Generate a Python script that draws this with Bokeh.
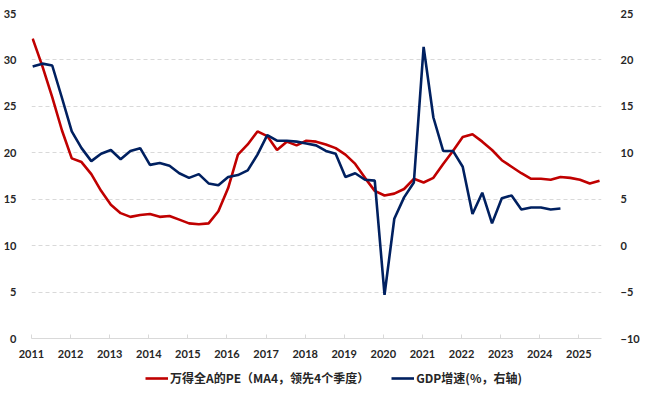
from bokeh.plotting import figure
from bokeh.layouts import column
from bokeh.models import Range1d, LinearAxis, FixedTicker, Legend, LegendItem
from bokeh.embed import file_html
from bokeh.resources import INLINE

# Quarterly series, 2011Q1 ...
pe_ma4 = [32.3, 29.3, 26.0, 22.4, 19.4, 19.0, 17.7, 15.9, 14.4, 13.5, 13.1, 13.3, 13.4, 13.1, 13.2,
          12.8, 12.4, 12.3, 12.4, 13.7, 16.2, 19.8, 20.9, 22.3, 21.8, 20.3, 21.2, 20.8, 21.3, 21.2,
          20.9, 20.5, 19.8, 18.8, 17.3, 15.9, 15.4, 15.6, 16.1, 17.2, 16.8, 17.3, 18.8, 20.2, 21.7,
          22.0, 21.2, 20.3, 19.2, 18.5, 17.8, 17.2, 17.2, 17.1, 17.4, 17.3, 17.1, 16.7, 17.0]
gdp_growth = [19.3, 19.6, 19.4, 15.9, 12.3, 10.5, 9.1, 9.9, 10.3, 9.3, 10.2, 10.5, 8.7, 8.9, 8.6,
              7.8, 7.3, 7.7, 6.7, 6.5, 7.4, 7.6, 8.1, 9.8, 11.9, 11.3, 11.3, 11.2, 11.0, 10.8,
              10.2, 9.9, 7.4, 7.8, 7.1, 7.0, -5.3, 2.9, 5.2, 6.8, 21.4, 13.8, 10.2, 10.2, 8.5,
              3.4, 5.7, 2.4, 5.1, 5.4, 3.9, 4.1, 4.1, 3.9, 4.0]
start_year = 2011
year_ticks = list(range(2011, 2026))
left_ticks = [0, 5, 10, 15, 20, 25, 30, 35]
right_ticks = [-10, -5, 0, 5, 10, 15, 20, 25]
pe_label = "万得全A的PE（MA4，领先4个季度）"
gdp_label = "GDP增速(%，右轴)"

RED = "#C00000"
NAVY = "#002060"

x_pe = [start_year + 0.03 + 0.25 * i for i in range(len(pe_ma4))]
x_gdp = [start_year + 0.03 + 0.25 * i for i in range(len(gdp_growth))]

p = figure(width=642, height=363, output_backend="svg", toolbar_location=None,
           x_range=Range1d(2011, 2025.58), y_range=Range1d(0, 35),
           min_border_left=23, min_border_right=35, min_border_top=13, min_border_bottom=25)
p.outline_line_color = None
p.background_fill_color = "white"
p.extra_y_ranges = {"right": Range1d(-10, 25)}

tick_font = "Lato"
xa = p.xaxis[0]
xa.ticker = FixedTicker(ticks=year_ticks)
xa.axis_line_color = "#d9d9d9"
xa.major_tick_line_color = "#d9d9d9"
xa.major_tick_in = 4
xa.major_tick_out = 0
xa.minor_tick_line_color = None
xa.major_label_text_font = tick_font
xa.major_label_text_font_style = "bold"
xa.major_label_text_font_size = "11px"
xa.major_label_text_color = "#262626"
xa.major_label_standoff = 11

ya = p.yaxis[0]
ya.ticker = FixedTicker(ticks=left_ticks)
ya.axis_line_color = None
ya.major_tick_line_color = None
ya.minor_tick_line_color = None
ya.major_label_text_font = tick_font
ya.major_label_text_font_style = "bold"
ya.major_label_text_font_size = "11px"
ya.major_label_text_color = "#262626"
ya.major_label_standoff = 9

ra = LinearAxis(y_range_name="right", ticker=FixedTicker(ticks=right_ticks))
ra.axis_line_color = None
ra.major_tick_line_color = None
ra.minor_tick_line_color = None
ra.major_label_text_font = tick_font
ra.major_label_text_font_style = "bold"
ra.major_label_text_font_size = "11px"
ra.major_label_text_color = "#262626"
ra.major_label_standoff = 13
p.add_layout(ra, "right")

p.xgrid.grid_line_color = None
p.ygrid.ticker = FixedTicker(ticks=left_ticks[1:])
p.ygrid.grid_line_color = "#d9d9d9"
p.ygrid.grid_line_dash = "4 3"
p.ygrid.grid_line_width = 1

p.line(x_pe, pe_ma4, line_color=RED, line_width=2.6)
p.line(x_gdp, gdp_growth, line_color=NAVY, line_width=2.6, y_range_name="right")

# legend strip below the chart
lf = figure(width=642, height=32, output_backend="svg", toolbar_location=None,
            x_range=Range1d(0, 1), y_range=Range1d(0, 1), min_border=0,
            x_axis_type=None, y_axis_type=None)
lf.outline_line_color = None
lf.grid.visible = False
# legend-key renderers kept outside the visible range
l1 = lf.line([-2, -1], [-2, -2], line_color=RED, line_width=2.6)
l2 = lf.line([-2, -1], [-2, -2], line_color=NAVY, line_width=2.6)

legend = Legend(items=[LegendItem(label=pe_label, renderers=[l1]),
                       LegendItem(label=gdp_label, renderers=[l2])],
                orientation="horizontal", location=(114, 9))
legend.label_text_font = "Noto Sans CJK SC"
legend.label_text_font_style = "bold"
legend.label_text_font_size = "12px"
legend.label_text_color = "#262626"
legend.glyph_width = 23
legend.glyph_height = 16
legend.label_height = 16
legend.label_standoff = 2
legend.spacing = 22
legend.padding = 0
legend.margin = 0
legend.border_line_color = None
legend.background_fill_alpha = 0
lf.add_layout(legend, "center")

layout = column(p, lf, spacing=0)
open("out.html", "w").write(file_html(layout, INLINE))
